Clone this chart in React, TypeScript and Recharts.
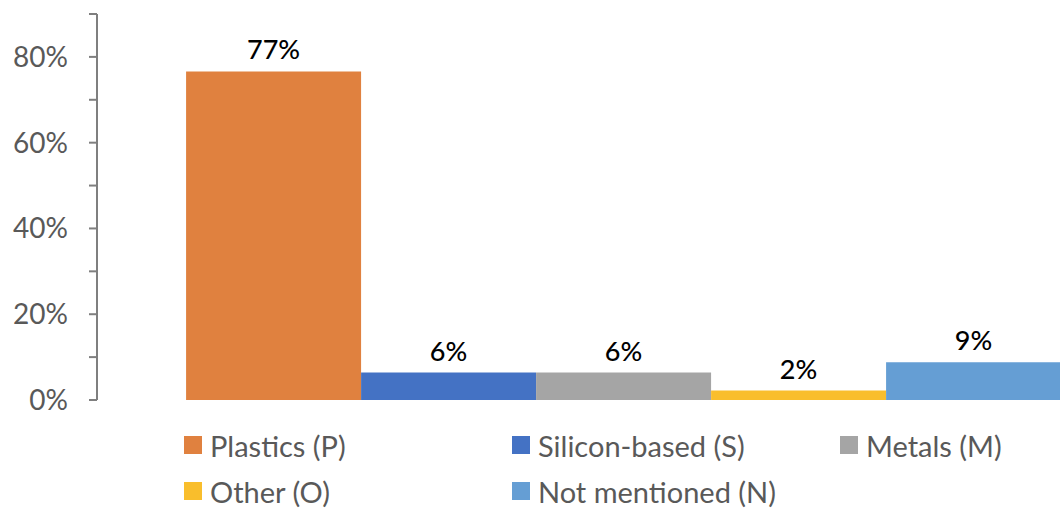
import { BarChart, Bar, XAxis, YAxis, LabelList, Legend } from 'recharts'

const CATEGORY = ['Materials']
const SERIES = ['Plastics (P)', 'Silicon-based (S)', 'Metals (M)', 'Other (O)', 'Not mentioned (N)']
const VALUES = [0.766, 0.064, 0.064, 0.022, 0.088]
const COLORS = ['#E0813F', '#4472C4', '#A5A5A5', '#F9BE2C', '#659ED4']
const Y_TICKS = [0, 0.1, 0.2, 0.3, 0.4, 0.5, 0.6, 0.7, 0.8, 0.9]

const data = CATEGORY.map((name) => {
  const row: Record<string, string | number> = { name }
  SERIES.forEach((s, i) => {
    row[s] = VALUES[i]
  })
  return row
})

const FONT = 'Lato, "Open Sans", sans-serif'

function pct(v: number) {
  return Math.round(v * 100) + '%'
}

// legend in series order, two rows of three columns
function LegendBox() {
  return (
    <div
      style={{
        display: 'grid',
        gridTemplateColumns: '328px 328px 328px',
        rowGap: 12,
        fontFamily: FONT,
        fontSize: 29,
        color: '#595959',
      }}
    >
      {SERIES.map((s, i) => (
        <div key={s} style={{ display: 'flex', alignItems: 'center', height: 34 }}>
          <span style={{ width: 18, height: 18, background: COLORS[i], marginRight: 8, display: 'inline-block' }} />
          <span>{s}</span>
        </div>
      ))}
    </div>
  )
}

export default function App() {
  return (
    <div style={{ position: 'absolute', left: 0, top: 0, width: 1060, height: 511, overflow: 'hidden', background: '#fff' }}>
      <BarChart
        width={1150}
        height={511}
        data={data}
        margin={{ top: 14, right: 0, bottom: 111, left: 0 }}
        barCategoryGap="8.46%"
        barGap={0}
      >
        <XAxis dataKey="name" hide />
        <YAxis
          width={97}
          domain={[0, 0.9]}
          ticks={Y_TICKS}
          interval={0}
          tickFormatter={(v: number) => (Math.round(v * 100) % 20 === 0 ? pct(v) : '')}
          tickSize={8}
          tickMargin={21}
          axisLine={{ stroke: '#7F7F7F', strokeWidth: 2 }}
          tickLine={{ stroke: '#7F7F7F', strokeWidth: 2 }}
          tick={{ fill: '#595959', fontSize: 28, fontFamily: FONT }}
        />
        <Legend
          verticalAlign="middle"
          layout="horizontal"
          content={<LegendBox />}
          wrapperStyle={{ top: 428, left: 184, width: 990, height: 90 }}
        />
        {SERIES.map((s, i) => (
          <Bar key={s} dataKey={s} fill={COLORS[i]} isAnimationActive={false}>
            <LabelList
              dataKey={s}
              position="top"
              offset={12}
              formatter={(v: any) => pct(Number(v))}
              style={{ fill: '#000', fontSize: 27, fontFamily: FONT, fontWeight: 500 }}
            />
          </Bar>
        ))}
      </BarChart>
    </div>
  )
}
